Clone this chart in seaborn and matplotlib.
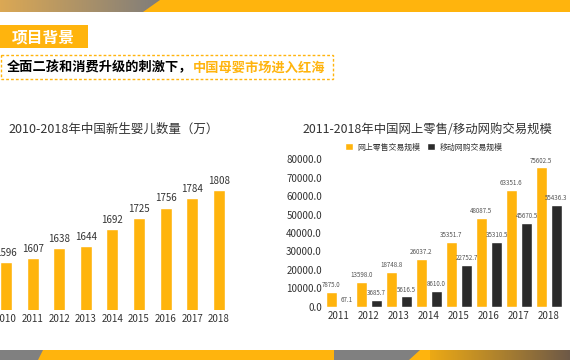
import numpy as np
import pandas as pd
import matplotlib
matplotlib.use("Agg")
import matplotlib.pyplot as plt
from matplotlib.patches import Polygon, Rectangle
import seaborn as sns

# -----------------------------
# DATA
# -----------------------------

birth_years = ["2010", "2011", "2012", "2013", "2014", "2015", "2016", "2017", "2018"]
births = [1596, 1607, 1638, 1644, 1692, 1725, 1756, 1784, 1808]

trade_years = ["2011", "2012", "2013", "2014", "2015", "2016", "2017", "2018"]
online_retail = [7875.0, 13598.0, 18748.8, 26037.2, 35351.7, 48087.5, 63351.6, 75602.5]
mobile_shop = [67.1, 3685.7, 5616.5, 8610.0, 22752.7, 35310.5, 45670.5, 55436.3]
series_names = ["网上零售交易规模", "移动网购交易规模"]

YELLOW = "#FFB40D"
DARK = "#2B2B2B"
GRAY = "#808080"
TXT = "#333333"

# -----------------------------
# STYLE
# -----------------------------

sns.set_theme(style="white")
plt.rcParams["font.family"] = ["Noto Sans CJK SC", "DejaVu Sans"]

W, H = 570, 360
fig = plt.figure(figsize=(W / 100, H / 100), dpi=100)

# -----------------------------
# DECORATION (banners, header boxes)
# -----------------------------

deco = fig.add_axes([0, 0, 1, 1], zorder=0)
deco.axis("off")

# top banner: gradient on the left, orange to the right
grad = np.linspace(0, 1, 256)
c0 = np.array([0.86, 0.66, 0.33])
c1 = np.array([0.50, 0.49, 0.48])
img = c0[None, :] * (1 - grad[:, None]) + c1[None, :] * grad[:, None]
deco.imshow(img[None, :, :], extent=[0, 160, 12, 0], aspect="auto")
deco.add_patch(Polygon([(143, 12), (160, 0), (W, 0), (W, 12)], color=YELLOW, lw=0))

# bottom banner
deco.add_patch(Rectangle((0, 350), 45, 10, color=GRAY, lw=0))
deco.add_patch(Polygon([(38, 360), (43, 350), (334, 350), (334, 360)], color=YELLOW, lw=0))
deco.add_patch(Rectangle((334, 350), 90, 10, color=GRAY, lw=0))
c2 = np.array([1.0, 0.71, 0.05])
c3 = np.array([0.43, 0.35, 0.28])
img2 = c2[None, :] * (1 - grad[:, None]) + c3[None, :] * grad[:, None]
deco.imshow(img2[None, :, :], extent=[409, W, 360, 350], aspect="auto")
deco.add_patch(Polygon([(409, 360), (420, 350), (430, 350), (430, 360)], color=YELLOW, lw=0))
deco.set_xlim(0, W)
deco.set_ylim(H, 0)

# section tag
deco.add_patch(Rectangle((0, 25), 88, 23, color=YELLOW, lw=0))
deco.text(12, 37, "项目背景", color="white", fontsize=11.3, fontweight="bold",
          va="center", ha="left")

# headline with dashed frame
deco.add_patch(Rectangle((1, 55), 332, 24, fill=False, ec=YELLOW, lw=1.0,
                         ls=(0, (2, 1.5))))
deco.text(7, 67.5, "全面二孩和消费升级的刺激下，", color="black", fontsize=9.5,
          fontweight="bold", va="center", ha="left")
deco.text(193, 67.5, "中国母婴市场进入红海", color=YELLOW, fontsize=9.5,
          fontweight="bold", va="center", ha="left")

# -----------------------------
# LEFT CHART: NEWBORNS
# -----------------------------

ax1 = fig.add_axes([0, 50 / H, 240 / W, 160 / H])
births_df = pd.DataFrame({"year": birth_years, "births": births})
sns.barplot(data=births_df, x="year", y="births", color=YELLOW, width=0.45,
            saturation=1, ax=ax1)
ax1.set_xlim(-0.2256, (240 - 6) / 26.6)
ax1.set_ylim(1455, 1455 + 160 / 0.34)
ax1.bar_label(ax1.containers[0], fmt="%d", padding=3, fontsize=7, color=TXT,
              fontweight="light")
ax1.set_yticks([])
ax1.set_xlabel("")
ax1.set_ylabel("")
ax1.tick_params(axis="x", length=0, labelsize=7, labelcolor=TXT, pad=3)
for lab in ax1.get_xticklabels():
    lab.set_fontweight("light")
sns.despine(ax=ax1, left=True, bottom=True)
fig.text(8 / W, 1 - 129 / H, "2010-2018年中国新生婴儿数量（万）", fontsize=9,
         color=TXT, ha="left", va="center", fontweight="light")

# -----------------------------
# RIGHT CHART: ONLINE / MOBILE TRADE
# -----------------------------

ax2 = fig.add_axes([326 / W, 53.3 / H, (W - 326) / W, 147.4 / H])
trade_df = pd.DataFrame({
    "year": trade_years * 2,
    "value": online_retail + mobile_shop,
    "series": [series_names[0]] * len(trade_years) + [series_names[1]] * len(trade_years),
})
sns.barplot(data=trade_df, x="year", y="value", hue="series",
            palette={series_names[0]: YELLOW, series_names[1]: DARK},
            width=1.03, gap=0.29, saturation=1, ax=ax2)
ax2.set_xlim(-0.427, (W - 338.8) / 30)
ax2.set_ylim(0, 80000)
ax2.set_yticks(np.arange(0, 80001, 10000))
ax2.set_yticklabels([f"{v:.1f}" for v in np.arange(0, 80001, 10000)])
for cont in ax2.containers:
    ax2.bar_label(cont, fmt="%.1f", padding=2, fontsize=4.5, color="#555555")
ax2.set_xlabel("")
ax2.set_ylabel("")
ax2.tick_params(axis="both", length=0, labelsize=7, labelcolor=TXT, pad=3)
for lab in ax2.get_xticklabels() + ax2.get_yticklabels():
    lab.set_fontweight("light")
sns.despine(ax=ax2, left=True, bottom=True)
ax2.legend(loc="center", bbox_to_anchor=(424 / W, 1 - 147 / H),
           bbox_transform=fig.transFigure, ncol=2, frameon=False,
           fontsize=5.7, handlelength=1.0, handleheight=1.0,
           handletextpad=0.6, columnspacing=0.8, labelcolor=TXT)
fig.text(303 / W, 1 - 129 / H, "2011-2018年中国网上零售/移动网购交易规模", fontsize=8.9,
         color=TXT, ha="left", va="center", fontweight="light")

fig.savefig("out.png", dpi=100)
